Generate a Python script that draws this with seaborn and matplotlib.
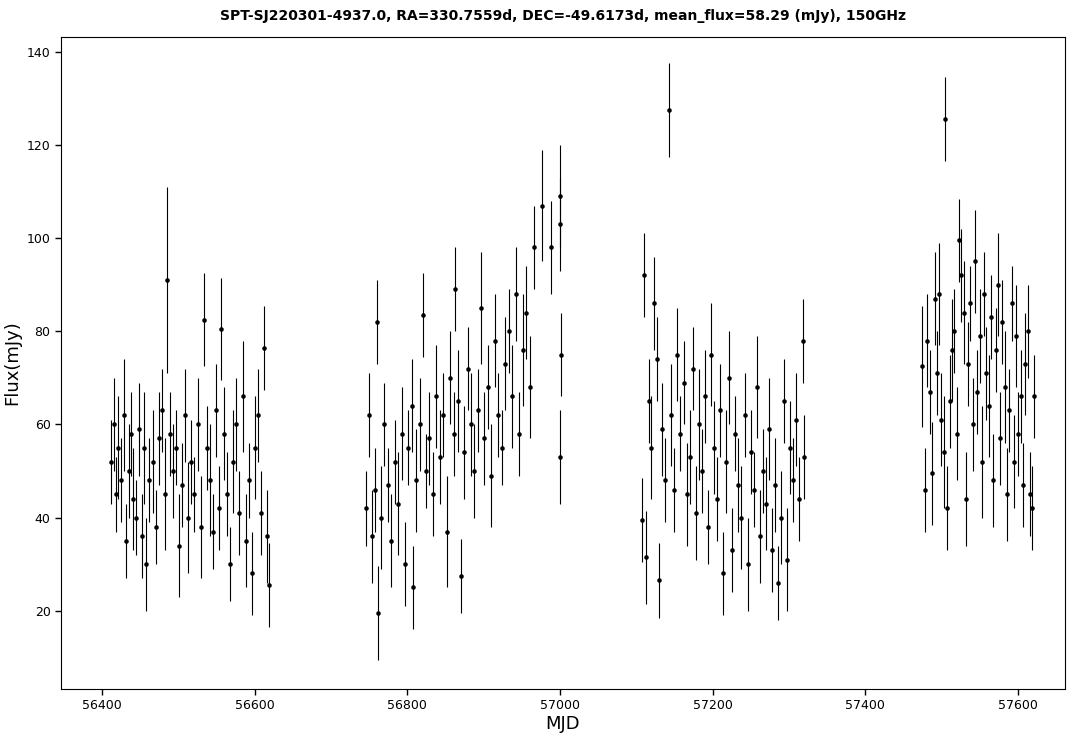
import matplotlib
matplotlib.use("Agg")
import matplotlib.pyplot as plt
import numpy as np
import pandas as pd
import seaborn as sns

TITLE = "SPT-SJ220301-4937.0, RA=330.7559d, DEC=-49.6173d, mean_flux=58.29 (mJy), 150GHz"

mjd_s1 = [56412, 56415, 56418, 56421, 56425, 56428, 56431, 56435, 56438, 56441, 56445, 56448, 56452, 56455,
          56458, 56462, 56466, 56470, 56474, 56478, 56482, 56485, 56489, 56493, 56497, 56501, 56505, 56509,
          56513, 56517, 56521, 56525, 56529, 56533, 56537, 56541, 56545, 56549, 56553, 56556, 56560, 56564,
          56568, 56572, 56576, 56580, 56584, 56588, 56592, 56596, 56600, 56604, 56608, 56612, 56616, 56619]
flux_s1 = [52, 60, 45, 55, 48, 62, 35, 50, 58, 44, 40, 59, 36, 55, 30, 48, 52, 38, 57, 63, 45, 91, 58, 50,
           55, 34, 47, 62, 40, 52, 45, 60, 38, 82.5, 55, 48, 37, 63, 42, 80.5, 58, 45, 30, 52, 60, 41, 66,
           35, 48, 28, 55, 62, 41, 76.5, 36, 25.5]
err_s1 = [9, 10, 8, 11, 9, 12, 8, 10, 9, 11, 8, 10, 9, 12, 10, 9, 11, 8, 10, 9, 12, 20, 9, 10, 8, 11, 9, 10,
          12, 9, 8, 10, 11, 10, 9, 12, 8, 10, 9, 11, 10, 9, 8, 11, 10, 9, 12, 10, 8, 9, 11, 10, 9, 9, 10, 9]

mjd_s2 = [56746, 56750, 56754, 56758, 56760, 56762, 56766, 56770, 56775, 56779, 56784, 56788, 56793, 56797,
          56801, 56806, 56808, 56812, 56816, 56820, 56825, 56829, 56834, 56838, 56843, 56847, 56852, 56856,
          56861, 56863, 56866, 56870, 56874, 56879, 56883, 56888, 56892, 56897, 56901, 56906, 56910, 56915,
          56919, 56924, 56928, 56933, 56937, 56942, 56946, 56951, 56956, 56961, 56966, 56976, 56988, 57000,
          57000, 57000, 57001]
flux_s2 = [42, 62, 36, 46, 82, 19.5, 40, 60, 47, 35, 52, 43, 58, 30, 55, 64, 25, 48, 60, 83.5, 50, 57, 45,
           66, 53, 62, 37, 70, 58, 89, 65, 27.5, 54, 72, 60, 50, 63, 85, 57, 68, 49, 78, 62, 55, 73, 80, 66,
           88, 58, 76, 84, 68, 98, 107, 98, 109, 103, 53, 75]
err_s2 = [8, 9, 10, 9, 9, 10, 11, 9, 8, 10, 9, 11, 10, 9, 8, 10, 9, 11, 10, 9, 8, 10, 9, 11, 10, 9, 12, 10,
          9, 9, 11, 8, 10, 9, 11, 10, 9, 12, 10, 9, 11, 10, 9, 8, 10, 9, 11, 10, 9, 12, 10, 11, 9, 12, 10,
          11, 10, 10, 9]

mjd_s3 = [57108, 57110, 57113, 57117, 57120, 57123, 57127, 57130, 57134, 57138, 57143, 57146, 57150, 57154,
          57158, 57162, 57166, 57170, 57174, 57178, 57182, 57186, 57190, 57194, 57198, 57202, 57206, 57210,
          57214, 57218, 57222, 57226, 57230, 57234, 57238, 57242, 57246, 57250, 57254, 57258, 57262, 57266,
          57270, 57274, 57278, 57282, 57286, 57290, 57294, 57298, 57302, 57306, 57310, 57314, 57318, 57320]
flux_s3 = [39.5, 92, 31.5, 65, 55, 86, 74, 26.5, 59, 48, 127.5, 62, 46, 75, 58, 69, 45, 53, 72, 41, 60, 50,
           66, 38, 75, 55, 44, 63, 28, 52, 70, 33, 58, 47, 40, 62, 30, 54, 46, 68, 36, 50, 43, 59, 33, 47,
           26, 40, 65, 31, 55, 48, 61, 44, 78, 53]
err_s3 = [9, 9, 10, 9, 11, 10, 9, 8, 10, 9, 10, 11, 9, 10, 8, 9, 11, 10, 9, 10, 12, 9, 10, 8, 11, 10, 9, 10,
          9, 11, 10, 9, 8, 10, 11, 9, 10, 9, 8, 11, 10, 9, 10, 11, 9, 10, 8, 10, 9, 11, 10, 9, 10, 9, 9, 9]

mjd_s4 = [57475, 57478, 57481, 57485, 57488, 57491, 57494, 57497, 57500, 57503, 57505, 57508, 57511, 57514,
          57517, 57520, 57523, 57526, 57529, 57532, 57535, 57538, 57541, 57544, 57547, 57550, 57553, 57556,
          57559, 57562, 57565, 57568, 57571, 57574, 57577, 57580, 57583, 57586, 57589, 57592, 57595, 57598,
          57601, 57604, 57607, 57610, 57613, 57616, 57619, 57621]
flux_s4 = [72.5, 46, 78, 67, 49.5, 87, 71, 88, 61, 54, 125.5, 42, 65, 76, 80, 58, 99.5, 92, 84, 44, 73, 86,
           60, 95, 67, 79, 52, 88, 71, 64, 83, 48, 76, 90, 57, 82, 68, 45, 63, 86, 52, 79, 58, 66, 47, 73,
           80, 45, 42, 66]
err_s4 = [13, 9, 10, 9, 11, 10, 9, 11, 10, 12, 9, 9, 10, 11, 9, 10, 9, 10, 11, 10, 9, 8, 10, 11, 9, 10, 12,
          9, 10, 11, 9, 10, 9, 11, 10, 9, 12, 10, 9, 8, 10, 11, 9, 10, 9, 11, 10, 9, 9, 9]

df = pd.DataFrame({
    "MJD": mjd_s1 + mjd_s2 + mjd_s3 + mjd_s4,
    "flux": flux_s1 + flux_s2 + flux_s3 + flux_s4,
    "err": err_s1 + err_s2 + err_s3 + err_s4,
})

sns.set_style("ticks")
plt.rcParams.update({"text.color": "black", "axes.labelcolor": "black",
                     "xtick.color": "black", "ytick.color": "black"})
fig, ax = plt.subplots(figsize=(10.79, 7.39), dpi=100)
ax.errorbar(df["MJD"], df["flux"], yerr=df["err"], fmt="none", ecolor="black", elinewidth=0.8)
sns.scatterplot(data=df, x="MJD", y="flux", color="black", s=9, edgecolor="black", ax=ax)

ax.set_xlim(56346, 57662)
ax.set_ylim(3.25, 143.2)
ax.set_xticks([56400, 56600, 56800, 57000, 57200, 57400, 57600])
ax.set_yticks([20, 40, 60, 80, 100, 120, 140])
ax.tick_params(direction="out", labelsize=9, length=4, width=1, colors="black")
ax.set_xlabel("MJD", fontsize=13, labelpad=2, color="black")
ax.set_ylabel("Flux(mJy)", fontsize=13, color="black")
ax.set_title(TITLE, fontsize=10, fontweight="bold", pad=12, color="black")
for s in ax.spines.values():
    s.set_visible(True)
    s.set_color("black")

fig.subplots_adjust(left=0.0565, right=0.987, top=0.95, bottom=0.068)
fig.savefig("out.png", dpi=100)
